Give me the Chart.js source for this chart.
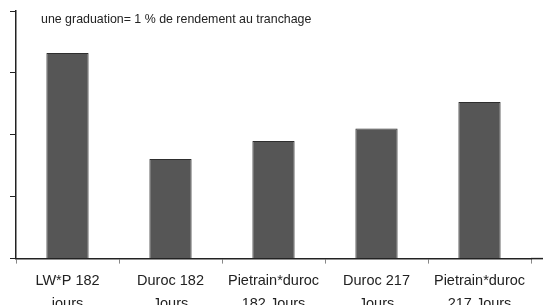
<!DOCTYPE html>
<html><head><meta charset="utf-8">
<script src="https://cdn.jsdelivr.net/npm/chart.js@4/dist/chart.umd.min.js"></script>
<style>html,body{margin:0;padding:0;background:#fff;overflow:hidden;width:543px;height:305px}canvas{display:block}</style>
</head><body>
<canvas id="c" width="543" height="322"></canvas>
<script>
const categories = [["LW*P 182","jours"],["Duroc 182","Jours"],["Pietrain*duroc","182 Jours"],["Duroc 217","Jours"],["Pietrain*duroc","217 Jours"]];
const values = [3.32, 1.61, 1.90, 2.10, 2.53];
const note = "une graduation= 1 % de rendement au tranchage";

const notePlugin = {
  id: 'note',
  afterDraw(chart) {
    const ctx = chart.ctx, a = chart.chartArea;
    ctx.save();
    ctx.font = '12.4px "Liberation Sans", Arial, sans-serif';
    ctx.fillStyle = '#222';
    ctx.textBaseline = 'middle';
    ctx.fillText(note, 41, 20);
    ctx.strokeStyle = '#222'; ctx.lineWidth = 1.5;
    ctx.beginPath(); ctx.moveTo(a.right, a.bottom); ctx.lineTo(chart.width, a.bottom); ctx.stroke();
    ctx.restore();
  }
};

new Chart(document.getElementById('c'), {
  type: 'bar',
  data: { labels: categories, datasets: [{ data: values, backgroundColor: '#565656', borderColor: '#2e2e2e', borderWidth: 1, barPercentage: 0.41, categoryPercentage: 1 }] },
  options: {
    responsive: false, animation: false,
    layout: { padding: { top: 11, left: 10, right: 12, bottom: 0 } },
    plugins: { legend: { display: false }, tooltip: { enabled: false } },
    scales: {
      x: {
        offset: true,
        grid: { display: true, offset: true, drawOnChartArea: false, drawTicks: true, tickLength: 5, color: '#888' },
        border: { display: true, color: '#222', width: 1.5 },
        ticks: { color: '#222', padding: 6, maxRotation: 0, autoSkip: false, font: { family: '"Liberation Sans", Arial, sans-serif', size: 14.5, lineHeight: 1.6 } }
      },
      y: {
        min: 0, max: 4,
        grid: { drawOnChartArea: false, drawTicks: true, tickLength: 6, color: '#222', lineWidth: 1 },
        border: { display: true, color: '#222', width: 1.5 },
        ticks: { display: false, stepSize: 1 }
      }
    }
  },
  plugins: [notePlugin]
});
</script>
</body></html>
